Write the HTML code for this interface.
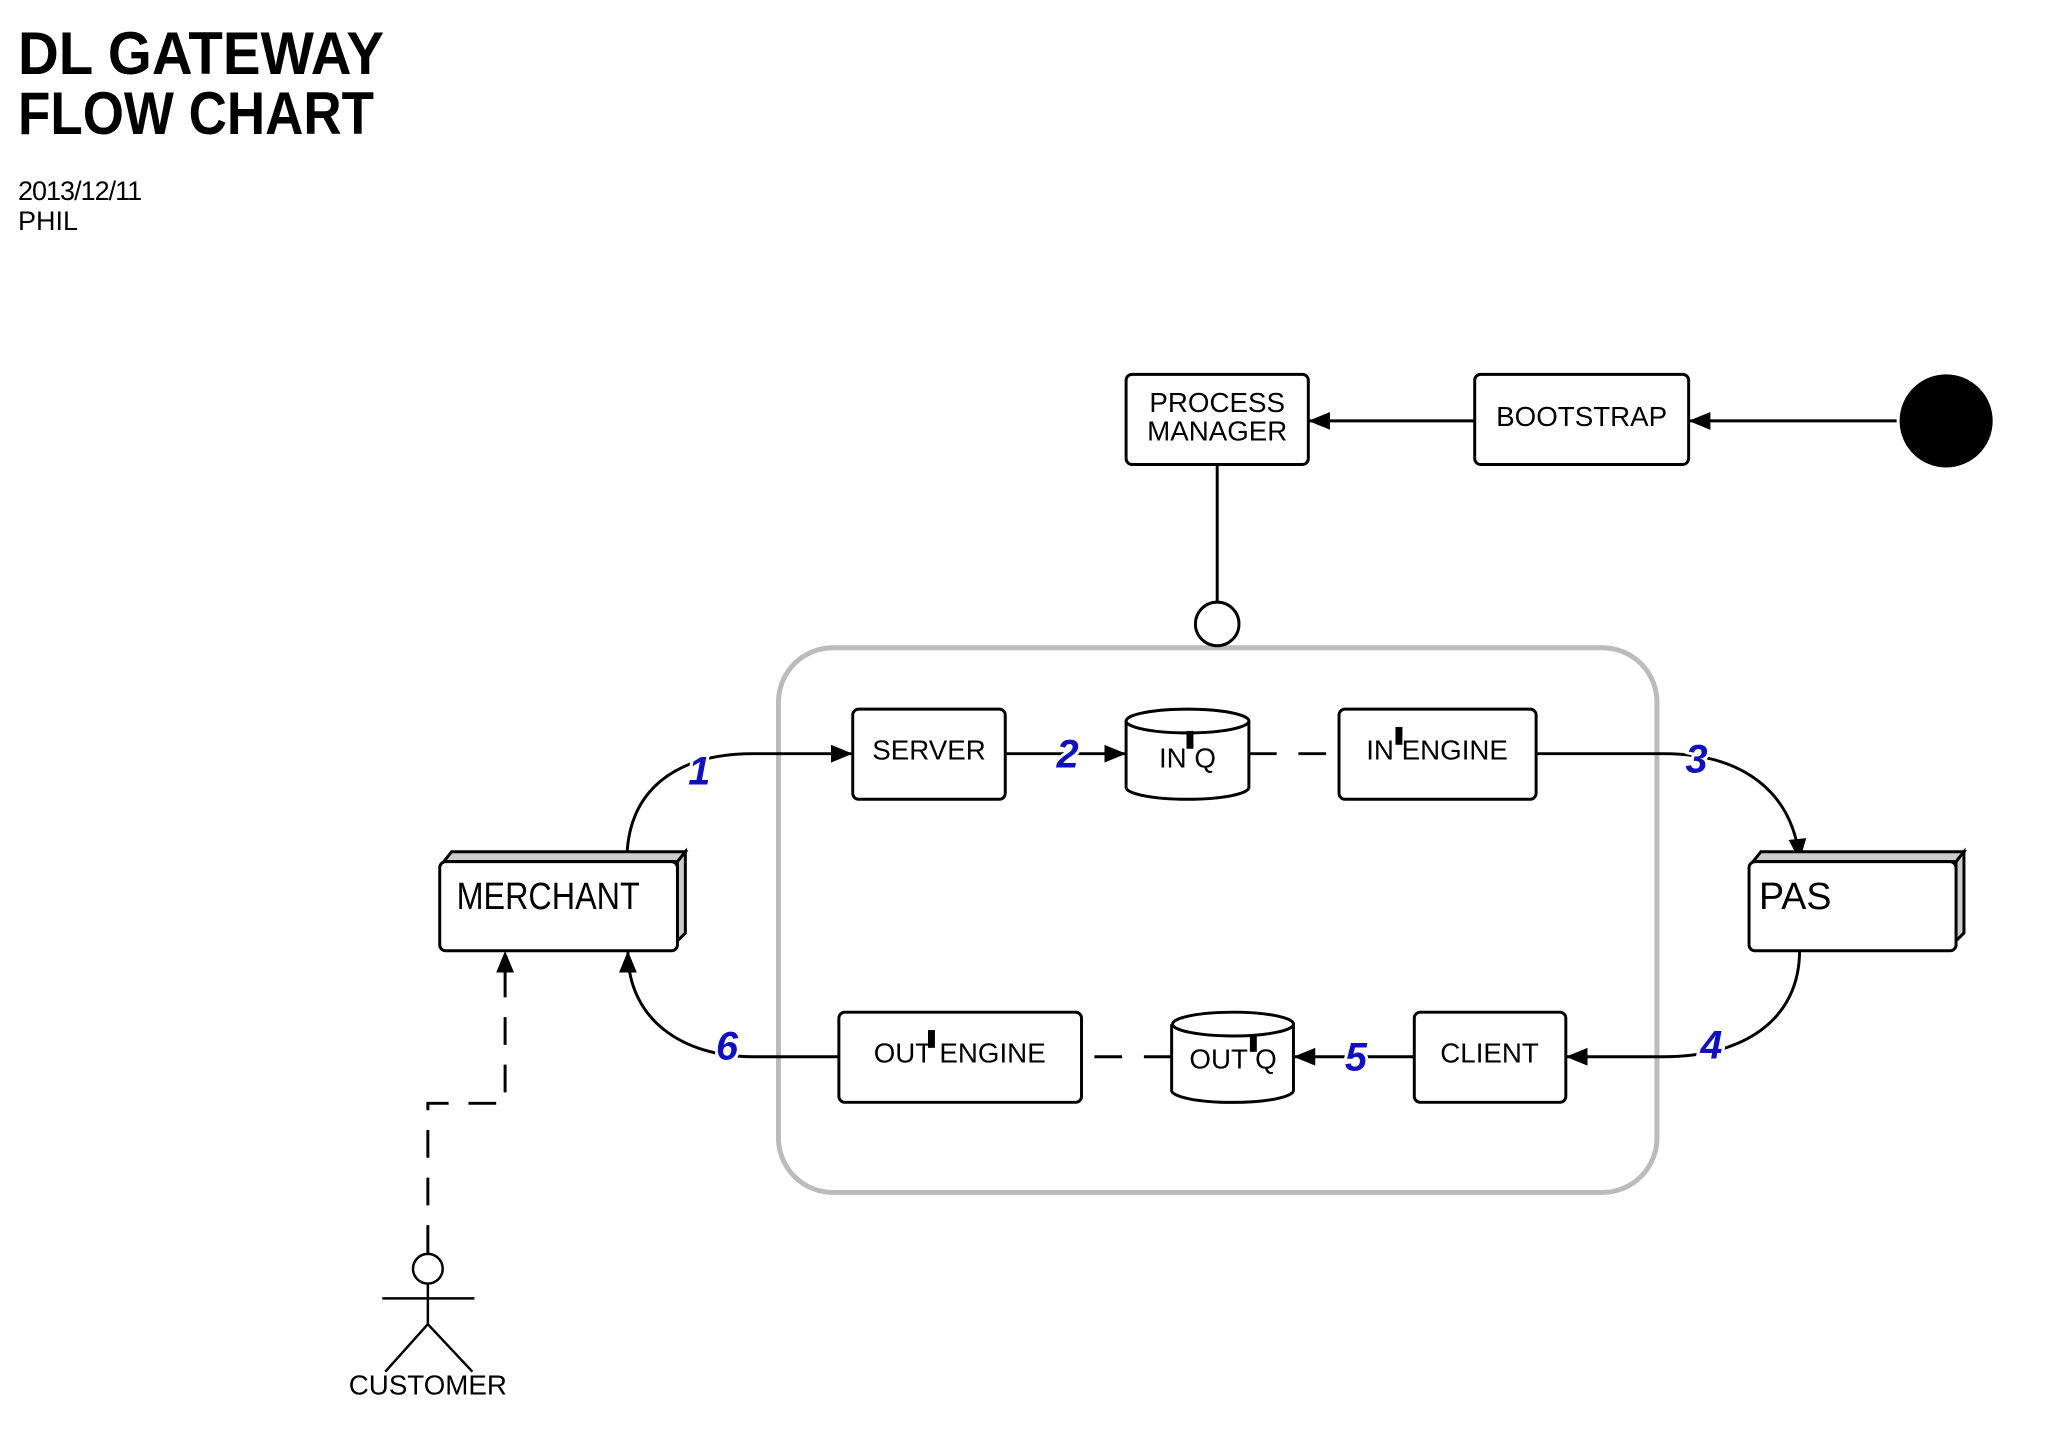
<!DOCTYPE html>
<html><head><meta charset="utf-8"><style>
html,body{margin:0;padding:0;background:#fff;}
svg{display:block;}
text{font-family:"Liberation Sans",sans-serif;}
</style></head><body>
<svg width="2048" height="1451" viewBox="0 0 2048 1451" xmlns="http://www.w3.org/2000/svg">
<defs>
<marker id="ahb" markerWidth="22" markerHeight="18" refX="21" refY="9" orient="auto" markerUnits="userSpaceOnUse" viewBox="0 0 22 18">
<path d="M0,0 L22,9 L0,18 z" fill="#000"/></marker>
</defs>
<g font-weight="bold" fill="#000">
<text x="18" y="74" font-size="60" textLength="366" lengthAdjust="spacingAndGlyphs">DL GATEWAY</text>
<text x="18" y="134" font-size="60" textLength="356" lengthAdjust="spacingAndGlyphs">FLOW CHART</text>
<text x="18" y="200" font-size="27" font-weight="normal" letter-spacing="-1">2013/12/11</text>
<text x="18" y="230" font-size="27" font-weight="normal">PHIL</text>
</g>
<g transform="scale(0.9904)">
<rect x="786" y="654" width="887" height="550" rx="55" fill="none" stroke="#bbb" stroke-width="5"/>
<g stroke="#000" stroke-width="3" fill="none">
<line x1="1915" y1="425" x2="1706" y2="425" marker-end="url(#ahb)"/>
<line x1="1489" y1="425" x2="1322" y2="425" marker-end="url(#ahb)"/>
<line x1="1229" y1="469" x2="1229" y2="608"/>
<circle cx="1229" cy="630" r="22" fill="#fff"/>
<path d="M633,869 C633,800 680,761 760,761 L860,761" marker-end="url(#ahb)"/>
<path d="M1015,761 L1136,761" marker-end="url(#ahb)"/>
<path d="M1261,761 L1352,761" stroke-dasharray="28,22"/>
<path d="M1551,761 L1680,761 C1760,761 1810,800 1817,868" marker-end="url(#ahb)"/>
<path d="M1817,960 C1817,1030 1760,1067 1680,1067 L1582,1067" marker-end="url(#ahb)"/>
<path d="M1428,1067 L1307,1067" marker-end="url(#ahb)"/>
<path d="M1183,1067 L1092,1067" stroke-dasharray="28,22"/>
<path d="M847,1067 L760,1067 C690,1067 634,1030 634,961" marker-end="url(#ahb)"/>
<path d="M432,1265 L432,1114 L510,1114 L510,961" stroke-dasharray="28,20" marker-end="url(#ahb)"/>
</g>
<circle cx="1965" cy="425" r="47" fill="#000"/>
<g stroke="#000" stroke-width="3" fill="#fff">
<rect x="1137" y="378" width="184" height="91" rx="6"/>
<rect x="1489" y="378" width="216" height="91" rx="6"/>
<rect x="861" y="716" width="154" height="91" rx="6"/>
<rect x="1352" y="716" width="199" height="91" rx="6"/>
<rect x="847" y="1022" width="245" height="91" rx="6"/>
<rect x="1428" y="1022" width="153" height="91" rx="6"/>
<path d="M1137,728 L1137,795 A62,12 0 0 0 1261,795 L1261,728"/>
<ellipse cx="1199" cy="728" rx="62" ry="12"/>
<path d="M1183,1034 L1183,1101 A61,12 0 0 0 1306,1101 L1306,1034"/>
<ellipse cx="1245" cy="1034" rx="61" ry="12"/>
<path d="M448,870 L456,860 L692,860 L684,870 Z" fill="#ccc"/>
<path d="M684,870 L692,860 L692,942 L684,950 Z" fill="#ccc"/>
<rect x="444" y="870" width="240" height="90" rx="6"/>
<path d="M1770,870 L1778,860 L1983,860 L1975,870 Z" fill="#ccc"/>
<path d="M1975,870 L1983,860 L1983,942 L1975,950 Z" fill="#ccc"/>
<rect x="1766" y="870" width="209" height="90" rx="6"/>
</g>
<g stroke="#000" stroke-width="2.5" fill="none">
<circle cx="432" cy="1281" r="15" fill="#fff"/>
<line x1="386" y1="1311" x2="479" y2="1311"/>
<line x1="432" y1="1296" x2="432" y2="1337"/>
<line x1="432" y1="1337" x2="389" y2="1385"/>
<line x1="432" y1="1337" x2="477" y2="1385"/>
</g>
<g font-size="28" fill="#000" text-anchor="middle">
<text x="1229" y="416">PROCESS</text>
<text x="1229" y="445">MANAGER</text>
<text x="1597" y="430">BOOTSTRAP</text>
<text x="938" y="767">SERVER</text>
<text x="1199" y="775">IN Q</text>
<text x="1451" y="767">IN ENGINE</text>
<text x="969" y="1073">OUT ENGINE</text>
<text x="1245" y="1079">OUT Q</text>
<text x="1504" y="1073">CLIENT</text>
<text x="432" y="1408">CUSTOMER</text>
</g>
<g fill="#000">
<rect x="1198" y="738" width="7" height="18"/>
<rect x="1409" y="734" width="7" height="18"/>
<rect x="937" y="1040" width="7" height="18"/>
<rect x="1262" y="1044" width="7" height="18"/>
</g>
<g font-size="38" fill="#000">
<text x="461" y="918" textLength="185" lengthAdjust="spacingAndGlyphs">MERCHANT</text>
<text x="1776" y="918">PAS</text>
</g>
<g font-size="40" font-weight="bold" font-style="italic" fill="#1010c0" text-anchor="middle">
<text x="706" y="792" stroke="#fff" stroke-width="6" paint-order="stroke">1</text>
<text x="1078" y="775" stroke="#fff" stroke-width="6" paint-order="stroke">2</text>
<text x="1713" y="780" stroke="#fff" stroke-width="6" paint-order="stroke">3</text>
<text x="1728" y="1069" stroke="#fff" stroke-width="6" paint-order="stroke">4</text>
<text x="1369" y="1081" stroke="#fff" stroke-width="6" paint-order="stroke">5</text>
<text x="734" y="1070" stroke="#fff" stroke-width="6" paint-order="stroke">6</text>
</g>
</g>
</svg>
</body></html>
